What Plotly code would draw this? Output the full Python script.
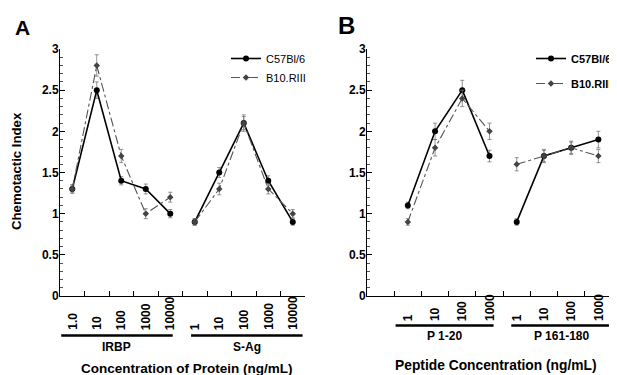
import plotly.graph_objects as go

# ---------------- data ----------------
a_groups = ["IRBP", "S-Ag"]
a_ticks = [["1.0", "10", "100", "1000", "10000"], ["1", "10", "100", "1000", "10000"]]
a_c57 = [[1.3, 2.5, 1.4, 1.3, 1.0], [0.9, 1.5, 2.1, 1.4, 0.9]]
a_c57_err = [[0.05, 0.10, 0.05, 0.06, 0.05], [0.04, 0.06, 0.10, 0.06, 0.04]]
a_b10 = [[1.3, 2.8, 1.7, 1.0, 1.2], [0.9, 1.3, 2.1, 1.3, 1.0]]
a_b10_err = [[0.05, 0.13, 0.08, 0.06, 0.06], [0.04, 0.07, 0.08, 0.06, 0.05]]

b_groups = ["P 1-20", "P 161-180"]
b_ticks = [["1", "10", "100", "1000"], ["1", "10", "100", "1000"]]
b_c57 = [[1.1, 2.0, 2.5, 1.7], [0.9, 1.7, 1.8, 1.9]]
b_c57_err = [[0.04, 0.10, 0.12, 0.07], [0.04, 0.08, 0.08, 0.10]]
b_b10 = [[0.9, 1.8, 2.4, 2.0], [1.6, 1.7, 1.8, 1.7]]
b_b10_err = [[0.04, 0.10, 0.10, 0.10], [0.08, 0.07, 0.07, 0.08]]

series_names = ["C57Bl/6", "B10.RIII"]

# ---------------- layout constants ----------------
# the page body has an 8px margin, so the figure is drawn 8px in from the window edge
OFF = 8
W, H = 617 - OFF, 375 - OFF
ML = 60 - OFF               # y axis of panel A at window x = 60
MT = 49 - OFF               # y = 3 at window y = 49
MB = H - (296 - OFF)        # y = 0 at window y = 296
MR = 0
PW = W - ML - MR
PH = H - MT - MB
FONT = "Liberation Sans, Arial, sans-serif"


def py(p):
    """window pixel row -> paper y"""
    return (H - MB - (p - OFF)) / PH


def px(p):
    """window pixel column -> paper x"""
    return (p - OFF - ML) / PW


fig = go.Figure()

styles = [
    dict(line=dict(color="black", width=1.6),
         marker=dict(symbol="circle", size=6, color="black")),
    dict(line=dict(color="#555555", width=1.1, dash="dashdot"),
         marker=dict(symbol="diamond", size=5, color="#444444")),
]


def add_panel(xa, ya, legend, start, vals_by_series, errs_by_series):
    for s, (vals, errs) in enumerate(zip(vals_by_series, errs_by_series)):
        offset = start
        for g, (gv, ge) in enumerate(zip(vals, errs)):
            xs = [offset + i + 0.5 for i in range(len(gv))]
            fig.add_trace(go.Scatter(
                x=xs, y=gv, xaxis=xa, yaxis=ya,
                mode="lines+markers", name=series_names[s],
                legendgroup=legend + series_names[s], showlegend=(g == 0),
                legend=legend,
                error_y=dict(type="data", array=ge, color="#777777",
                             thickness=0.8, width=2),
                **styles[s]))
            offset += len(gv)


add_panel("x", "y", "legend", 0, [a_c57, a_b10], [a_c57_err, a_b10_err])
add_panel("x2", "y2", "legend2", 1, [b_c57, b_b10], [b_c57_err, b_b10_err])

axis_common = dict(showgrid=False, zeroline=False, showline=True,
                   linecolor="black", linewidth=1, mirror=False)
yax = dict(axis_common, range=[0, 3], tickvals=[0, 0.5, 1, 1.5, 2, 2.5, 3],
           ticktext=["0", "0.5", "1", "1.5", "2", "2.5", "3"],
           ticks="inside", ticklen=5, tickcolor="black", ticklabelstandoff=-2,
           minor=dict(dtick=0.1, ticks="inside", ticklen=3, tickcolor="#555555"),
           tickfont=dict(family=FONT, size=12, color="black", weight="bold"))

a_dom = [px(60), px(305)]
b_dom = [px(367), px(612)]

fig.update_layout(
    width=W, height=H,
    margin=dict(l=ML, r=MR, t=MT, b=MB),
    paper_bgcolor="white", plot_bgcolor="white",
    xaxis=dict(axis_common, domain=a_dom, range=[0, 10],
               tickvals=list(range(1, 11)), showticklabels=False,
               ticks="inside", ticklen=5, tickcolor="black"),
    yaxis=dict(yax, anchor="x"),
    xaxis2=dict(axis_common, domain=b_dom, range=[0, 9],
                tickvals=list(range(1, 10)), showticklabels=False,
                ticks="inside", ticklen=5, tickcolor="black", anchor="y2"),
    yaxis2=dict(yax, anchor="x2"),
    legend=dict(x=px(226), y=py(44), xanchor="left", yanchor="top",
                bgcolor="rgba(0,0,0,0)", itemwidth=30, tracegroupgap=0,
                font=dict(family=FONT, size=11, color="black")),
    legend2=dict(x=1.0, y=py(44), xanchor="right", yanchor="top",
                 bgcolor="rgba(0,0,0,0)", itemwidth=30, tracegroupgap=6,
                 font=dict(family=FONT, size=11, color="black", weight="bold")),
    showlegend=True,
)

ann = []
shapes = []


def group_labels(xref, ticks, groups, start, label_bottom, bar_y, bar_spans, glabel_y):
    off = start
    for g, tl in enumerate(ticks):
        for i, t in enumerate(tl):
            ann.append(dict(x=off + i + 0.5, y=py(label_bottom), xref=xref, yref="paper",
                            text=t, textangle=-90, showarrow=False,
                            xanchor="center", yanchor="bottom",
                            font=dict(family=FONT, size=12, color="black", weight="bold")))
        x0, x1 = bar_spans[g]
        shapes.append(dict(type="line", xref=xref, yref="paper", x0=x0, x1=x1,
                           y0=py(bar_y), y1=py(bar_y),
                           line=dict(color="black", width=2.5)))
        ann.append(dict(x=(x0 + x1) / 2, y=py(glabel_y), xref=xref, yref="paper",
                        text=groups[g], showarrow=False, xanchor="center", yanchor="middle",
                        font=dict(family=FONT, size=12, color="black", weight="bold")))
        off += len(tl)


group_labels("x", a_ticks, a_groups, 0, 332, 335.5, [(0.05, 4.6), (5.35, 9.9)], 347)
group_labels("x2", b_ticks, b_groups, 1, 323, 325.5, [(1.05, 4.65), (5.3, 9.0)], 336)

# axis titles
ann.append(dict(x=px(187), y=py(368), xref="paper", yref="paper",
                text="Concentration of Protein (ng/mL)",
                showarrow=False, xanchor="center", yanchor="middle",
                font=dict(family=FONT, size=13.5, color="black", weight="bold")))
ann.append(dict(x=px(496), y=py(365.5), xref="paper", yref="paper",
                text="Peptide Concentration (ng/mL)",
                showarrow=False, xanchor="center", yanchor="middle",
                font=dict(family=FONT, size=13.8, color="black", weight="bold")))
ann.append(dict(x=px(16), y=py(171), xref="paper", yref="paper", text="Chemotactic Index",
                textangle=-90, showarrow=False, xanchor="center", yanchor="middle",
                font=dict(family=FONT, size=13.2, color="black", weight="bold")))
# panel letters
ann.append(dict(x=px(22.5), y=py(28), xref="paper", yref="paper", text="A", showarrow=False,
                xanchor="center", yanchor="middle",
                font=dict(family=FONT, size=21, color="black", weight="bold")))
ann.append(dict(x=px(346), y=py(26), xref="paper", yref="paper", text="B", showarrow=False,
                xanchor="center", yanchor="middle",
                font=dict(family=FONT, size=24, color="black", weight="bold")))

fig.update_layout(annotations=ann, shapes=shapes)
fig.write_html("out.html")
